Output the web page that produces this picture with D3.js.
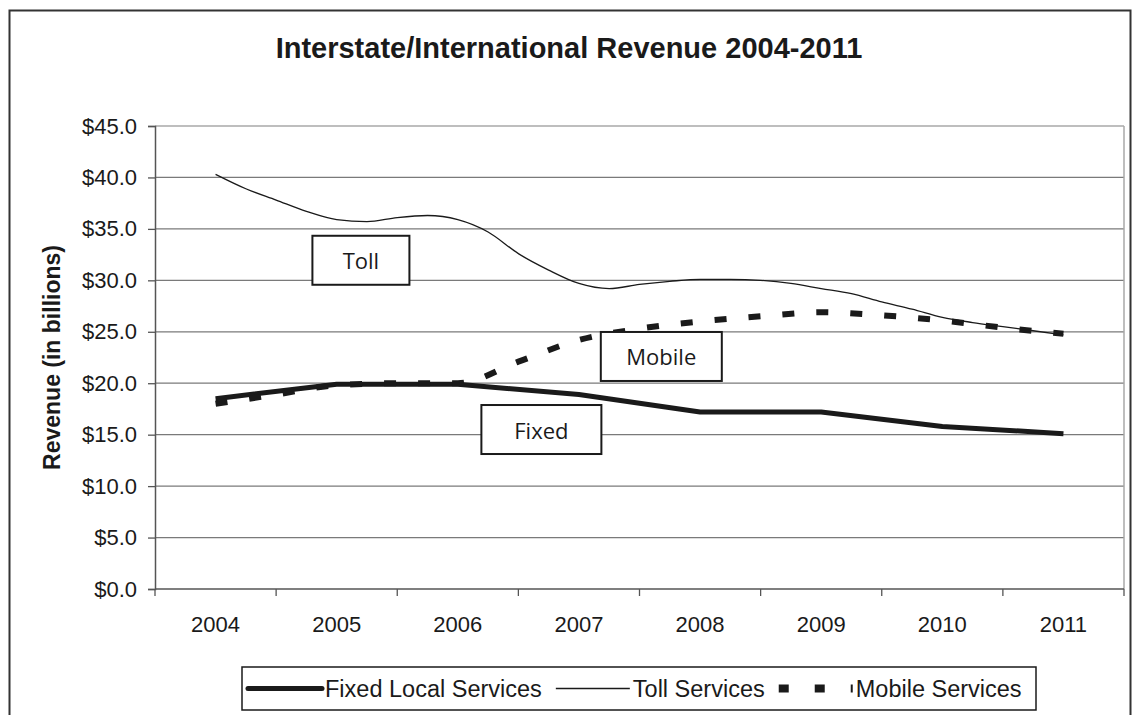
<!DOCTYPE html>
<html>
<head>
<meta charset="utf-8">
<script src="https://cdn.jsdelivr.net/npm/d3@7/dist/d3.min.js"></script>
<style>
body { margin: 0; background: #fff; }
text { font-family: "Liberation Sans", Arial, sans-serif; fill: #1a1a1a; }
.note text { font-family: "Open Sans", "Noto Sans", sans-serif; }
</style>
</head>
<body>
<div class="chart"></div>
<script>
// categories on the x axis
const years = ['2004', '2005', '2006', '2007', '2008', '2009', '2010', '2011'];

// revenue in billions
const fixedValues = [18.5, 19.9, 19.9, 18.9, 17.2, 17.2, 15.8, 15.1];

// toll is drawn from quarterly readings
const tollDates = [2004, 2004.25, 2004.5, 2004.75, 2005, 2005.25, 2005.5, 2005.75,
	2006, 2006.25, 2006.5, 2006.75, 2007, 2007.25, 2007.5, 2007.75,
	2008, 2008.25, 2008.5, 2008.75, 2009, 2009.25, 2009.5, 2009.75,
	2010, 2010.25, 2010.5, 2010.75, 2011];
const tollValues = [40.3, 38.9, 37.8, 36.7, 35.9, 35.7, 36.1, 36.3,
	35.9, 34.7, 32.6, 31.0, 29.7, 29.2, 29.6, 29.9,
	30.1, 30.1, 30.0, 29.7, 29.2, 28.7, 27.9, 27.2,
	26.4, 25.9, 25.5, 25.1, 24.7];

// mobile from half-year readings
const mobileDates = [2004, 2004.5, 2005, 2005.5, 2006, 2006.5, 2007, 2007.5,
	2008, 2008.5, 2009, 2009.5, 2010, 2010.5, 2011];
const mobileValues = [18.0, 18.9, 19.8, 20.0, 20.0, 22.1, 24.2, 25.3,
	26.0, 26.5, 26.9, 26.6, 26.1, 25.4, 24.8];

const yTicks = [0, 5, 10, 15, 20, 25, 30, 35, 40, 45];
const legendLabels = ['Fixed Local Services', 'Toll Services', 'Mobile Services'];
const title = 'Interstate/International Revenue 2004-2011';
const yTitle = 'Revenue (in billions)';

// text boxes on the chart, placed in data units
const notes = [
	{label: 'Toll', year: 2005.2, value: 31.95},
	{label: 'Mobile', year: 2007.68, value: 22.6},
	{label: 'Fixed', year: 2006.69, value: 15.5}
];
const noteWidths = {Toll: 97, Mobile: 121, Fixed: 120};

const width = 1132, height = 715;
const plot = {left: 155, right: 1124, top: 126, bottom: 589};

const svg = d3.select('.chart').append('svg')
	.attr('width', width)
	.attr('height', height);

// outer frame
svg.append('rect')
	.attr('x', 9.5).attr('y', 10.5)
	.attr('width', 1121).attr('height', 730)
	.style('fill', 'none').style('stroke', '#333').style('stroke-width', 2);

const x = d3.scaleBand().domain(years).range([plot.left, plot.right]);
const xt = d3.scaleLinear()
	.domain([+years[0], +years[years.length - 1]])
	.range([x(years[0]) + x.bandwidth() / 2, x(years[years.length - 1]) + x.bandwidth() / 2]);
const y = d3.scaleLinear().domain([0, 45]).range([plot.bottom, plot.top]);

// gridlines
svg.append('g')
		.attr('class', 'grid')
	.selectAll('line')
		.data(yTicks.filter(function(d){ return d > 0 }))
	.enter().append('line')
		.attr('x1', plot.left).attr('x2', plot.right)
		.attr('y1', function(d){ return y(d) }).attr('y2', function(d){ return y(d) })
		.style('stroke', function(d){ return d === 45 ? '#a8a8a8' : '#7a7a7a' })
		.style('stroke-width', 1.3);

// right border of the plot area
svg.append('line')
	.attr('x1', plot.right).attr('x2', plot.right)
	.attr('y1', plot.top).attr('y2', plot.bottom)
	.style('stroke', '#a8a8a8').style('stroke-width', 1.5);

// y axis
const yAxis = svg.append('g')
	.attr('transform', 'translate(' + plot.left + ',0)')
	.call(d3.axisLeft(y).tickValues(yTicks).tickSize(7).tickPadding(11)
		.tickFormat(function(d){ return '$' + d.toFixed(1) }));
yAxis.select('.domain').style('stroke', '#555').style('stroke-width', 1.5);
yAxis.selectAll('.tick line').style('stroke', '#555').style('stroke-width', 1.3);
yAxis.selectAll('.tick text').style('font-size', '22px').style('fill', '#1a1a1a')
	.style('font-family', '"Liberation Sans", Arial, sans-serif');

// x axis: labels in the middle of the bands, ticks on the band edges
const xAxis = svg.append('g')
	.attr('transform', 'translate(0,' + plot.bottom + ')')
	.call(d3.axisBottom(x).tickSize(0).tickPadding(27));
xAxis.select('.domain').remove();
xAxis.selectAll('.tick text').style('font-size', '22px').style('fill', '#1a1a1a')
	.style('font-family', '"Liberation Sans", Arial, sans-serif');

const edges = years.map(function(d){ return x(d) }).concat([plot.right]);
svg.append('g')
	.selectAll('line')
		.data(edges)
	.enter().append('line')
		.attr('x1', function(d){ return d }).attr('x2', function(d){ return d })
		.attr('y1', plot.bottom).attr('y2', plot.bottom + 7)
		.style('stroke', '#555').style('stroke-width', 1.3);
svg.append('line')
	.attr('x1', plot.left).attr('x2', plot.right)
	.attr('y1', plot.bottom).attr('y2', plot.bottom)
	.style('stroke', '#555').style('stroke-width', 1.5);

// series, in legend order so mobile sits on top
const fixedLine = d3.line()
	.x(function(d, i){ return xt(+years[i]) })
	.y(function(d){ return y(d) });

const tollLine = d3.line()
	.curve(d3.curveMonotoneX)
	.x(function(d, i){ return xt(tollDates[i]) })
	.y(function(d){ return y(d) });

const mobileLine = d3.line()
	.curve(d3.curveMonotoneX)
	.x(function(d, i){ return xt(mobileDates[i]) })
	.y(function(d){ return y(d) });

const styles = [
	{width: 5, dash: null},
	{width: 1.3, dash: null},
	{width: 6, dash: '12,22'}
];

svg.append('path').datum(fixedValues)
	.attr('d', fixedLine)
	.style('fill', 'none').style('stroke', '#1a1a1a').style('stroke-width', styles[0].width)
	.style('stroke-linejoin', 'round');

svg.append('path').datum(tollValues)
	.attr('d', tollLine)
	.style('fill', 'none').style('stroke', '#1a1a1a').style('stroke-width', styles[1].width);

svg.append('path').datum(mobileValues)
	.attr('d', mobileLine)
	.style('fill', 'none').style('stroke', '#1a1a1a')
	.style('stroke-width', styles[2].width).style('stroke-dasharray', styles[2].dash);

// text boxes
const note = svg.append('g')
		.attr('class', 'note')
	.selectAll('g')
		.data(notes)
	.enter().append('g')
		.attr('transform', function(d){ return 'translate(' + xt(d.year) + ',' + y(d.value) + ')' });
note.append('rect')
	.attr('x', function(d){ return -noteWidths[d.label] / 2 })
	.attr('y', -24.5)
	.attr('width', function(d){ return noteWidths[d.label] })
	.attr('height', 49)
	.style('fill', '#fff').style('stroke', '#1a1a1a').style('stroke-width', 2);
note.append('text')
	.attr('text-anchor', 'middle')
	.attr('y', 9)
	.style('font-size', '22px')
	.text(function(d){ return d.label });

// title
svg.append('text')
	.attr('x', 569).attr('y', 58)
	.attr('text-anchor', 'middle')
	.style('font-size', '29px').style('font-weight', 'bold')
	.text(title);

svg.append('text')
	.attr('transform', 'translate(60,' + ((plot.top + plot.bottom) / 2) + ') rotate(-90)')
	.attr('text-anchor', 'middle')
	.style('font-size', '23px').style('font-weight', 'bold')
	.text(yTitle);

// legend
const legendBox = {left: 242, top: 667, right: 1036, bottom: 710};
const legend = svg.append('g');
legend.append('rect')
	.attr('x', legendBox.left).attr('y', legendBox.top)
	.attr('width', legendBox.right - legendBox.left)
	.attr('height', legendBox.bottom - legendBox.top)
	.style('fill', '#fff').style('stroke', '#1a1a1a').style('stroke-width', 1.5);

const legendMid = (legendBox.top + legendBox.bottom) / 2;
let cursor = legendBox.left + 6;
legendLabels.forEach(function(label, i){
	legend.append('line')
		.attr('x1', cursor).attr('x2', cursor + 74)
		.attr('y1', legendMid).attr('y2', legendMid)
		.style('stroke', '#1a1a1a')
		.style('stroke-width', i === 2 ? 8 : styles[i].width)
		.style('stroke-dasharray', i === 2 ? '10,26' : null)
		.style('stroke-linecap', i === 0 ? 'round' : 'butt');
	cursor += 77;
	const t = legend.append('text')
		.attr('x', cursor).attr('y', legendMid + 8)
		.style('font-size', '23.5px')
		.text(label);
	cursor += t.node().getComputedTextLength() + 14;
});
</script>
</body>
</html>
